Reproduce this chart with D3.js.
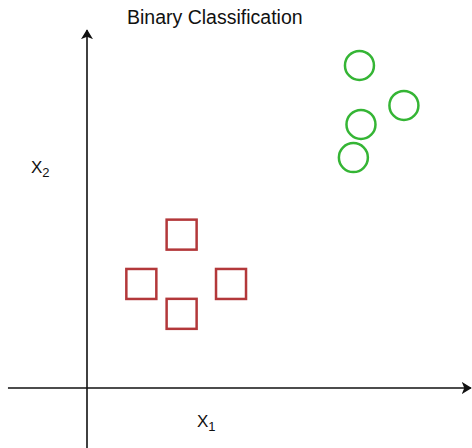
<!DOCTYPE html>
<html>
<head>
<meta charset="utf-8">
<script src="https://cdn.jsdelivr.net/npm/d3@7"></script>
<style>
    body { margin: 0; background: #fff; }
    text { font-family: "Liberation Sans", Arial, sans-serif; fill: #111; }
</style>
</head>
<body>
<div id="visualization"></div>
<script>

// Class 1 (squares)
const squareX1 = [2.49, 1.43, 3.79, 2.49];
const squareX2 = [4.26, 2.89, 2.89, 2.06];

// Class 2 (circles)
const circleX1 = [7.17, 8.34, 7.21, 7.01];
const circleX2 = [8.96, 7.85, 7.32, 6.40];

const title = "Binary Classification";

const width = 472;
const height = 448;

// Create the svg
let svg = d3.select("#visualization")
    .append("svg")
    .attr("width", width)
    .attr("height", height);

// Scales, origin of the axes is (0, 0)
let xScale = d3.scaleLinear()
    .domain([0, 10])
    .range([87, 467]);

let yScale = d3.scaleLinear()
    .domain([0, 10])
    .range([388, 28]);

// Arrow heads
let defs = svg.append("defs");
defs.append("marker")
    .attr("id", "arrow")
    .attr("viewBox", "0 0 10 12")
    .attr("refX", 9)
    .attr("refY", 6)
    .attr("markerWidth", 10)
    .attr("markerHeight", 12)
    .attr("markerUnits", "userSpaceOnUse")
    .attr("orient", "auto")
    .append("path")
    .attr("d", "M0,0 L10,6 L0,12 L2.5,6 Z")
    .attr("fill", "#111");

// x-axis
svg.append("line")
    .attr("x1", xScale(-2.08))
    .attr("x2", xScale(10.1))
    .attr("y1", yScale(0))
    .attr("y2", yScale(0))
    .attr("stroke", "#111")
    .attr("stroke-width", 1.6)
    .attr("marker-end", "url(#arrow)");

// y-axis
svg.append("line")
    .attr("x1", xScale(0))
    .attr("x2", xScale(0))
    .attr("y1", yScale(-1.67))
    .attr("y2", yScale(9.94))
    .attr("stroke", "#111")
    .attr("stroke-width", 1.6)
    .attr("marker-end", "url(#arrow)");

// Squares
const side = 30;
svg.selectAll("rect.sq")
    .data(squareX1.map((d, i) => ({x: d, y: squareX2[i]})))
    .enter()
    .append("rect")
    .attr("class", "sq")
    .attr("x", d => xScale(d.x) - side / 2)
    .attr("y", d => yScale(d.y) - side / 2)
    .attr("width", side)
    .attr("height", side)
    .attr("fill", "none")
    .attr("stroke", "#b3383a")
    .attr("stroke-width", 2.5);

// Circles
svg.selectAll("circle.ci")
    .data(circleX1.map((d, i) => ({x: d, y: circleX2[i]})))
    .enter()
    .append("circle")
    .attr("class", "ci")
    .attr("cx", d => xScale(d.x))
    .attr("cy", d => yScale(d.y))
    .attr("r", 14.5)
    .attr("fill", "none")
    .attr("stroke", "#35b535")
    .attr("stroke-width", 2.5);

// Title
svg.append("text")
    .attr("x", 127)
    .attr("y", 24)
    .attr("font-size", 19.5)
    .text(title);

// Axis labels
let xLabel = svg.append("text")
    .attr("x", 197)
    .attr("y", 427)
    .attr("font-size", 17);
xLabel.append("tspan").text("X");
xLabel.append("tspan").attr("font-size", 13).attr("dy", 4).text("1");

let yLabel = svg.append("text")
    .attr("x", 31)
    .attr("y", 173)
    .attr("font-size", 17);
yLabel.append("tspan").text("X");
yLabel.append("tspan").attr("font-size", 13).attr("dy", 4).text("2");

</script>
</body>
</html>
